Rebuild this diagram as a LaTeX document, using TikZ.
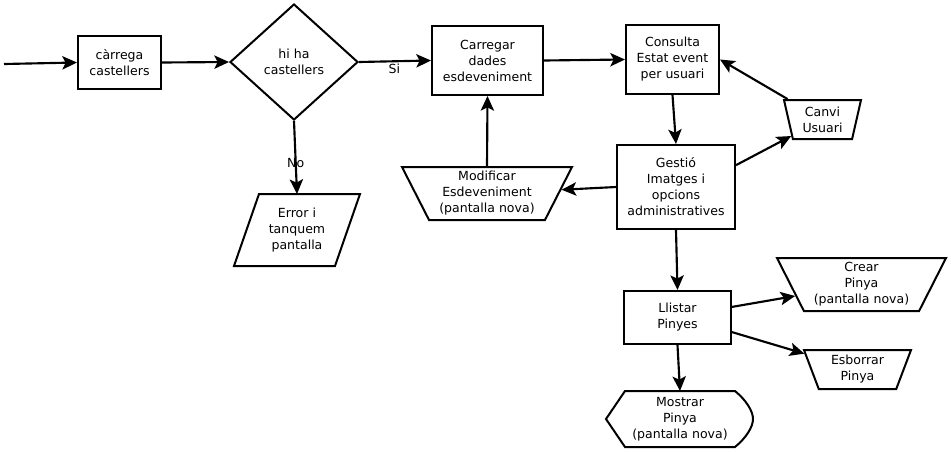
\documentclass[tikz,border=0pt]{standalone}
\usepackage{fontspec}
\setmainfont{DejaVu Sans}
\usetikzlibrary{shapes.geometric,arrows.meta,calc}
\begin{document}
\begin{tikzpicture}[x=0.75pt,y=-0.75pt,
  font=\fontsize{9.4pt}{12pt}\selectfont,
  every node/.style={align=center, inner sep=0pt},
  box/.style 2 args={draw, line width=1.5pt, rectangle,
    minimum width=#1*0.75pt, minimum height=#2*0.75pt},
  trap/.style n args={3}{draw, line width=1.5pt, trapezium,
    trapezium angle=#3, trapezium stretches body, shape border rotate=180,
    minimum width=#1*0.75pt, minimum height=#2*0.75pt},
  blank/.style 2 args={line width=1.5pt,
    minimum width=#1*0.75pt, minimum height=#2*0.75pt},
  outline/.style={draw, line width=1.5pt, line join=miter},
  arr/.style={line width=1.6pt, -{Stealth[length=11pt, width=10pt, inset=2.5pt]}},
  lbl/.style={font=\fontsize{9.4pt}{12pt}\selectfont}
]
\useasboundingbox (0,0) rectangle (951,451);

% nodes
\coordinate (entry) at (4,64);
\node[box={83}{53}] (carrega) at (119.5,62.5) {càrrega\\castellers};
\node[draw, line width=1.5pt, diamond, minimum width=128*0.75pt, minimum height=116*0.75pt] (hi) at (294,62) {hi ha\\castellers};
\node[box={111}{69}] (carregar) at (487.5,60.5) {Carregar\\dades\\esdeveniment};
\node[box={93}{69}] (consulta) at (672.5,59.5) {Consulta\\Estat event\\per usuari};
\node[box={118}{84}] (gestio) at (676,187) {Gestió\\Imatges i\\opcions\\administratives};
\node[box={107}{53}] (llistar) at (677.5,317.5) {Llistar\\Pinyes};

\node[trap={170}{53}{58.5}] (modif) at (487,193.5) {Modificar\\Esdeveniment\\(pantalla nova)};
\node[trap={77}{39}{70.9}] (canvi) at (822.5,119.5) {Canvi\\Usuari};
\node[trap={169}{53}{58.5}] (crear) at (861.5,284.5) {Crear\\Pinya\\(pantalla nova)};
\node[trap={107}{39}{62.3}] (esborrar) at (857.5,369.5) {Esborrar\\Pinya};

\node[blank={99}{70}] (error) at (297,230) {Error i\\tanquem\\pantalla};
\draw[outline] ($(error.north west)+(12.5,0)$) -- ($(error.north east)+(12.5,0)$)
  -- ($(error.south east)+(-12.5,0)$) -- ($(error.south west)+(-12.5,0)$) -- cycle;

\node[blank={108}{54}] (mostrar) at (680,419) {Mostrar\\Pinya\\(pantalla nova)};
\draw[outline] (mostrar.north west) -- (mostrar.north east)
  .. controls ($(mostrar.north east)+(11,9)$) and ($(mostrar.east)+(18,-8)$) .. ($(mostrar.east)+(18,0)$)
  .. controls ($(mostrar.east)+(18,8)$) and ($(mostrar.south east)+(11,-9)$) .. (mostrar.south east)
  -- (mostrar.south west) -- ($(mostrar.west)+(-19,0)$) -- cycle;

% connectors
\draw[arr] (entry) -- (carrega.west);
\draw[arr] (carrega.east) -- (hi.west);
\draw[arr] (hi.east) -- node[lbl, pos=0.49, below=1.5pt] {Si} (carregar.west);
\draw[arr] (hi.south) -- node[lbl, pos=0.57] {No} (error.north);
\draw[arr] (carregar.east) -- (consulta.west);
\draw[arr] (modif.north) -- (carregar.south);
\draw[arr] (consulta.south) -- (gestio.north);
\draw[arr] (gestio.west) -- (modif);
\draw[arr] (gestio.20) -- (canvi);
\draw[arr] (canvi) -- (consulta.east);
\draw[arr] (gestio.south) -- (llistar.north);
\draw[arr] (llistar.11) -- (crear);
\draw[arr] (llistar.-15) -- (esborrar);
\draw[arr] (llistar.south) -- (mostrar.north);
\end{tikzpicture}
\end{document}
